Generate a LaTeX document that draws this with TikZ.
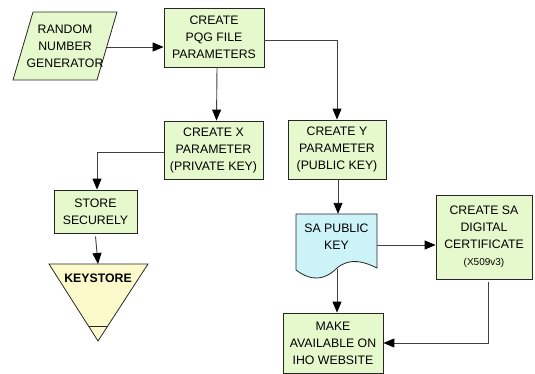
\documentclass[tikz,border=0pt]{standalone}
\usepackage{fontspec}
\setmainfont{Liberation Sans}
\usetikzlibrary{arrows.meta}
\definecolor{boxgreen}{HTML}{E6F9CC}
\definecolor{ksyellow}{HTML}{FCFACB}
\definecolor{doccyan}{HTML}{CCF3F8}
\begin{document}
\begin{tikzpicture}[x=1pt,y=-1pt,
  box/.style={draw=black!85, fill=boxgreen, line width=0.8pt, align=center, inner sep=0pt,
    font=\fontsize{12.3}{17}\selectfont},
  plain/.style={align=center, inner sep=0pt, font=\fontsize{12.3}{17}\selectfont},
  conn/.style={draw=black!75, line width=0.9pt, -{Triangle[length=11pt,width=9pt,color=black]}}]
\useasboundingbox (0,0) rectangle (535,374);

% Random number generator (parallelogram)
\filldraw[draw=black!85, fill=boxgreen, line width=0.8pt]
  (33,12) -- (117,12) -- (97,80) -- (13,80) -- cycle;
\node[plain] (rng) at (65,46) {RANDOM\\NUMBER\\GENERATOR};
\coordinate (rngout) at (107,47);

\node[box, minimum width=100pt, minimum height=59pt] (pqg) at (214,37.5) {CREATE\\PQG FILE\\PARAMETERS};
\node[box, minimum width=99pt, minimum height=58pt] (xpar) at (213.5,150) {CREATE X\\PARAMETER\\(PRIVATE KEY)};
\node[box, minimum width=98pt, minimum height=59pt] (ypar) at (337,149.5) {CREATE Y\\PARAMETER\\(PUBLIC KEY)};
\node[box, minimum width=83pt, minimum height=43pt] (store) at (95.5,211.5) {STORE\\SECURELY};

% Keystore (inverted triangle)
\filldraw[draw=black!85, fill=ksyellow, line width=0.8pt]
  (49,264) -- (148,264) -- (98,341) -- cycle;
\draw[black!85, line width=0.6pt] (88.5,326) -- (107.5,326);
\node[plain, font=\bfseries\fontsize{12.3}{17}\selectfont] (ks) at (98,278) {KEYSTORE};
\coordinate (kstop) at (98,264);

% SA public key (document shape)
\filldraw[draw=black!85, fill=doccyan, line width=0.8pt]
  (296,214) -- (377,214) -- (377,268)
  .. controls (365,262) and (350,257) .. (337,268)
  .. controls (325,280) and (312,282) .. (296,270) -- cycle;
\node[plain, minimum width=81pt, minimum height=46pt] (doc) at (336.5,237) {SA PUBLIC\\KEY};
\coordinate (docbot) at (337,269);

\node[box, minimum width=96pt, minimum height=84pt] (cert) at (484,237)
  {CREATE SA\\DIGITAL\\CERTIFICATE\\{\fontsize{10}{17}\selectfont(X509v3)}};
\node[box, minimum width=100pt, minimum height=60pt] (make) at (333,343)
  {MAKE\\AVAILABLE ON\\IHO WEBSITE};

% connectors
\draw[conn] (rngout) -- (rngout -| pqg.west);
\draw[conn] ([yshift=-2.5pt]pqg.east) -| (ypar.north);
\draw[conn] ([xshift=3pt]pqg.south) -- ([xshift=3pt]xpar.north);
\draw[conn] ([yshift=-2pt]xpar.west) -| ([xshift=1.5pt]store.north);
\draw[conn] ([yshift=-3pt]store.south) -- (kstop);
\draw[conn] ([xshift=1pt]ypar.south) -- ([xshift=1pt]ypar.south |- doc.north);
\draw[conn] ([yshift=-8pt]doc.east) -- ([yshift=-8pt]doc.east -| cert.west);
\draw[conn] (docbot) -- (docbot |- make.north);
\draw[conn] ([xshift=4pt,yshift=-3pt]cert.south) |- (make.east);
\end{tikzpicture}
\end{document}
